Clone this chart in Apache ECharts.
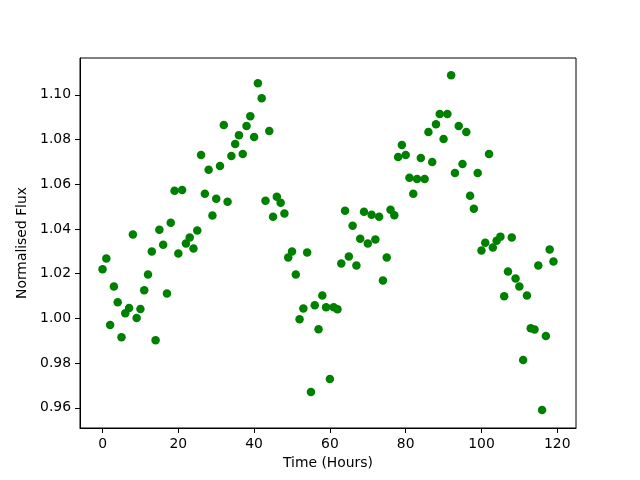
<!DOCTYPE html>
<html>
<head>
<meta charset="utf-8">
<script src="https://cdn.jsdelivr.net/npm/echarts@6/dist/echarts.min.js"></script>
<style>
  html, body { margin: 0; padding: 0; background: #fff; }
  #chart { width: 640px; height: 480px; }
</style>
</head>
<body>
<div id="chart"></div>
<script>
// hours 0..119, one reading per hour
const hours = [];
for (let h = 0; h < 120; h++) hours.push(h);

const flux = [
  1.0220, 1.0268, 0.9971, 1.0143, 1.0072, 0.9916, 1.0023, 1.0047, 1.0375, 1.0002,
  1.0042, 1.0126, 1.0197, 1.0299, 0.9903, 1.0397, 1.0330, 1.0112, 1.0428, 1.0571,
  1.0290, 1.0575, 1.0335, 1.0362, 1.0313, 1.0393, 1.0731, 1.0558, 1.0665, 1.0460,
  1.0535, 1.0682, 1.0865, 1.0522, 1.0727, 1.0780, 1.0820, 1.0736, 1.0861, 1.0905,
  1.0812, 1.1052, 1.0985, 1.0526, 1.0838, 1.0455, 1.0544, 1.0518, 1.0469, 1.0273,
  1.0299, 1.0197, 0.9996, 1.0045, 1.0295, 0.9671, 1.0059, 0.9952, 1.0103, 1.0050,
  0.9729, 1.0050, 1.0041, 1.0246, 1.0482, 1.0277, 1.0415, 1.0237, 1.0357, 1.0477,
  1.0335, 1.0464, 1.0353, 1.0455, 1.0170, 1.0273, 1.0486, 1.0462, 1.0722, 1.0776,
  1.0731, 1.0629, 1.0558, 1.0624, 1.0718, 1.0624, 1.0834, 1.0700, 1.0869, 1.0914,
  1.0803, 1.0914, 1.1088, 1.0651, 1.0861, 1.0691, 1.0834, 1.0549, 1.0491, 1.0651,
  1.0304, 1.0339, 1.0736, 1.0317, 1.0348, 1.0366, 1.0099, 1.0210, 1.0362, 1.0179,
  1.0143, 0.9814, 1.0103, 0.9956, 0.9951, 1.0237, 0.9591, 0.9922, 1.0308, 1.0255
];

const xTicks = [0, 20, 40, 60, 80, 100, 120];
const yTicks = [0.96, 0.98, 1.00, 1.02, 1.04, 1.06, 1.08, 1.10];

const font = 'DejaVu Sans';

let myChart = echarts.init(document.getElementById('chart'));
let option = {
    animation: false,
    grid: {
        left: 80,
        right: 64,
        top: 58,
        bottom: 52,
        show: true,
        borderColor: '#000',
        borderWidth: 1
    },
    xAxis: {
        type: 'value',
        min: -5.95,
        max: 124.95,
        name: 'Time (Hours)',
        nameLocation: 'middle',
        nameGap: 27,
        nameTextStyle: { color: '#000', fontFamily: font, fontSize: 13.9 },
        axisLine: { show: true, onZero: false, lineStyle: { color: '#000' } },
        axisTick: { show: true, length: 5, customValues: xTicks, lineStyle: { color: '#000' } },
        axisLabel: { customValues: xTicks, margin: 9, color: '#000', fontFamily: font, fontSize: 13.9 },
        splitLine: { show: false }
    },
    yAxis: {
        type: 'value',
        min: 0.9510,
        max: 1.1165,
        name: 'Normalised Flux',
        nameLocation: 'middle',
        nameGap: 43,
        nameTextStyle: { color: '#000', fontFamily: font, fontSize: 13.9 },
        axisLine: { show: true, onZero: false, lineStyle: { color: '#000' } },
        axisTick: { show: true, length: 5, customValues: yTicks, lineStyle: { color: '#000' } },
        axisLabel: {
            customValues: yTicks,
            margin: 9,
            color: '#000',
            fontFamily: font,
            fontSize: 13.9,
            formatter: v => v.toFixed(2)
        },
        splitLine: { show: false }
    },
    series: [
        {
            type: 'scatter',
            data: hours.map((h, i) => [h, flux[i]]),
            symbol: 'circle',
            symbolSize: 8.5,
            itemStyle: { color: '#008000', opacity: 1 }
        }
    ]
};
myChart.setOption(option);
</script>
</body>
</html>
